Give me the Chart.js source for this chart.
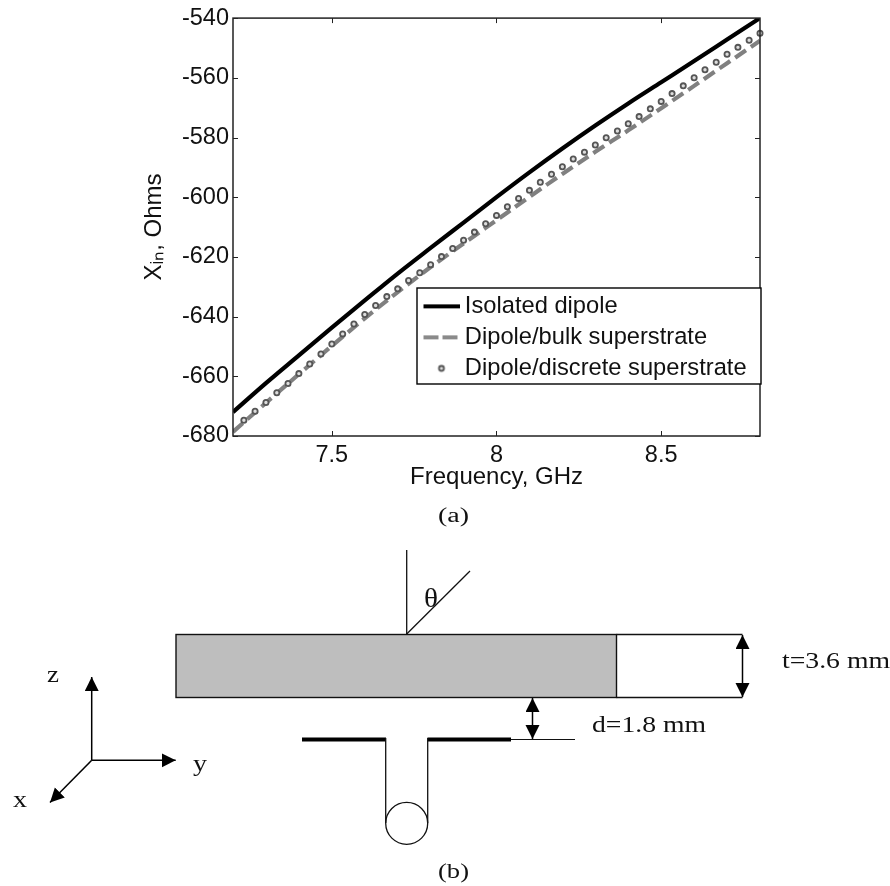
<!DOCTYPE html>
<html>
<head>
<meta charset="utf-8">
<script src="https://cdn.jsdelivr.net/npm/chart.js@4"></script>
<style>
html,body{margin:0;padding:0;background:#fff;}
#wrap{position:relative;width:890px;height:886px;overflow:hidden;}
canvas{position:absolute;left:0;top:0;}
svg{position:absolute;left:0;top:0;}
svg text{font-family:"Liberation Serif",serif;fill:#111;}
</style>
</head>
<body>
<div id="wrap">
<canvas id="c" width="890" height="530"></canvas>
<svg width="890" height="886" viewBox="0 0 890 886">
  <defs>
    <marker id="ah" markerUnits="userSpaceOnUse" markerWidth="15" markerHeight="15" refX="14" refY="7" orient="auto-start-reverse">
      <path d="M0,0 L14,7 L0,14 Z" fill="#000"/>
    </marker>
  </defs>
  <text x="438" y="522" font-size="20" textLength="31" lengthAdjust="spacingAndGlyphs">(a)</text>
  <line x1="406.7" y1="550" x2="406.7" y2="634" stroke="#111" stroke-width="1.3"/>
  <line x1="406.7" y1="634" x2="470" y2="571" stroke="#111" stroke-width="1.3"/>
  <text x="424" y="607" font-size="27" textLength="14" lengthAdjust="spacingAndGlyphs">θ</text>
  <rect x="176" y="634.5" width="440.5" height="63" fill="#bebebe" stroke="#111" stroke-width="1.4"/>
  <polyline points="616.5,634.5 742.5,634.5" fill="none" stroke="#111" stroke-width="1.4"/>
  <polyline points="616.5,697.5 742.5,697.5" fill="none" stroke="#111" stroke-width="1.4"/>
  <line x1="742.5" y1="635" x2="742.5" y2="697" stroke="#000" stroke-width="1.5" marker-start="url(#ah)" marker-end="url(#ah)"/>
  <line x1="532.5" y1="698" x2="532.5" y2="739" stroke="#000" stroke-width="1.5" marker-start="url(#ah)" marker-end="url(#ah)"/>
  <line x1="302" y1="739.5" x2="386" y2="739.5" stroke="#000" stroke-width="4"/>
  <line x1="427.5" y1="739.5" x2="511" y2="739.5" stroke="#000" stroke-width="4"/>
  <line x1="511" y1="739.5" x2="575" y2="739.5" stroke="#111" stroke-width="1.2"/>
  <line x1="385.7" y1="738" x2="385.7" y2="823" stroke="#111" stroke-width="1.3"/>
  <line x1="427.7" y1="738" x2="427.7" y2="823" stroke="#111" stroke-width="1.3"/>
  <circle cx="406.7" cy="823.3" r="21" fill="none" stroke="#111" stroke-width="1.3"/>
  <line x1="91.7" y1="760.3" x2="91.7" y2="677" stroke="#000" stroke-width="1.5" marker-end="url(#ah)"/>
  <line x1="91.7" y1="760.3" x2="175.7" y2="760.3" stroke="#000" stroke-width="1.5" marker-end="url(#ah)"/>
  <line x1="91.7" y1="760.3" x2="50" y2="802.5" stroke="#000" stroke-width="1.5" marker-end="url(#ah)"/>
  <text x="47" y="682" font-size="24" textLength="12" lengthAdjust="spacingAndGlyphs">z</text>
  <text x="193" y="771" font-size="24" textLength="14" lengthAdjust="spacingAndGlyphs">y</text>
  <text x="13" y="807" font-size="24" textLength="14" lengthAdjust="spacingAndGlyphs">x</text>
  <text x="782" y="668" font-size="23" textLength="108" lengthAdjust="spacingAndGlyphs">t=3.6 mm</text>
  <text x="592" y="732" font-size="23" textLength="114" lengthAdjust="spacingAndGlyphs">d=1.8 mm</text>
  <text x="438" y="878" font-size="20" textLength="31" lengthAdjust="spacingAndGlyphs">(b)</text>
</svg>
</div>
<script>
const xTickValues = [7.5, 8, 8.5];
const xTickLabels = ['7.5', '8', '8.5'];
const yTickValues = [-680, -660, -640, -620, -600, -580, -560, -540];
const yTickLabels = ['-680', '-660', '-640', '-620', '-600', '-580', '-560', '-540'];

const lineFreq = [7.2, 7.3, 7.4, 7.5, 7.6, 7.7, 7.8, 7.9, 8.0, 8.1, 8.2, 8.3, 8.4, 8.5, 8.6, 8.7, 8.8];
const isolatedValues = [-672, -662.3, -653, -643.7, -634.6, -625.6, -617, -608.5, -600, -591.7, -583.7, -576, -568.6, -561.5, -554.4, -547.2, -540];
const bulkValues = [-678.6, -668.9, -659.3, -649.8, -640.6, -631.8, -623.4, -615.5, -607.7, -599.9, -592.2, -584.8, -577.6, -570.2, -562.7, -555.1, -547.6];

const discreteFreq = [7.233, 7.267, 7.3, 7.333, 7.367, 7.4, 7.433, 7.467, 7.5, 7.533, 7.567, 7.6, 7.633, 7.667, 7.7, 7.733, 7.767, 7.8, 7.833, 7.867, 7.9, 7.933, 7.967, 8.0, 8.033, 8.067, 8.1, 8.133, 8.167, 8.2, 8.233, 8.267, 8.3, 8.333, 8.367, 8.4, 8.433, 8.467, 8.5, 8.533, 8.567, 8.6, 8.633, 8.667, 8.7, 8.733, 8.767, 8.8];
const discreteValues = [-674.7, -671.7, -668.8, -665.5, -662.4, -659.1, -655.9, -652.5, -649.2, -645.8, -642.5, -639.3, -636.3, -633.3, -630.7, -627.9, -625.3, -622.6, -619.9, -617.2, -614.4, -611.7, -608.9, -606.1, -603.2, -600.4, -597.7, -595, -592.3, -589.8, -587.2, -584.9, -582.5, -580.1, -577.8, -575.4, -573, -570.4, -567.9, -565.3, -562.7, -560, -557.3, -554.8, -552.1, -549.8, -547.4, -545.1];

const seriesNames = ['Isolated dipole', 'Dipole/bulk superstrate', 'Dipole/discrete superstrate'];
const FONT = '"Liberation Sans", Arial, sans-serif';
const pair = (xs, ys) => xs.map((x, i) => ({x, y: ys[i]}));

function swatch(draw) {
  const s = document.createElement('canvas');
  s.width = 42; s.height = 14;
  draw(s.getContext('2d'));
  return s;
}
const swatches = [
  swatch(g => { g.strokeStyle = '#000'; g.lineWidth = 4; g.beginPath(); g.moveTo(6, 7); g.lineTo(42, 7); g.stroke(); }),
  swatch(g => { g.strokeStyle = '#8a8a8a'; g.lineWidth = 4; g.setLineDash([15, 4]); g.beginPath(); g.moveTo(6, 7); g.lineTo(42, 7); g.stroke(); }),
  swatch(g => { g.strokeStyle = '#555'; g.fillStyle = '#ddd'; g.lineWidth = 1.8; g.beginPath(); g.arc(24, 7, 2.5, 0, Math.PI * 2); g.fill(); g.stroke(); })
];

const frame = {
  id: 'frame',
  afterLayout(chart) {
    const l = chart.legend;
    const w = l.width, h = l.height;
    const pad = l.options.labels.padding;
    l.left = 424 - pad;
    l.top = 294.5 - pad;
    l.right = l.left + w; l.bottom = l.top + h;
  },
  afterDatasetsDraw(chart) {
    const {ctx, chartArea: a, scales: {x, y}} = chart;
    ctx.save();
    ctx.strokeStyle = '#222'; ctx.lineWidth = 1.5;
    ctx.strokeRect(a.left, a.top, a.right - a.left, a.bottom - a.top);
    ctx.lineWidth = 1;
    ctx.beginPath();
    xTickValues.forEach(v => {
      const p = Math.round(x.getPixelForValue(v)) + 0.5;
      ctx.moveTo(p, a.top); ctx.lineTo(p, a.top + 5);
      ctx.moveTo(p, a.bottom); ctx.lineTo(p, a.bottom - 5);
    });
    yTickValues.forEach(v => {
      const p = Math.round(y.getPixelForValue(v)) + 0.5;
      ctx.moveTo(a.left, p); ctx.lineTo(a.left + 5, p);
      ctx.moveTo(a.right, p); ctx.lineTo(a.right - 5, p);
    });
    ctx.stroke();
    ctx.fillStyle = '#fff'; ctx.strokeStyle = '#000'; ctx.lineWidth = 1.4;
    ctx.fillRect(417, 288, 344, 96);
    ctx.strokeRect(417, 288, 344, 96);
    ctx.restore();
    chart.legend.draw();
  }
};

new Chart(document.getElementById('c'), {
  type: 'scatter',
  data: {
    datasets: [
      {label: seriesNames[0], data: pair(lineFreq, isolatedValues), showLine: true, borderColor: '#000', borderWidth: 4.2, pointRadius: 0, cubicInterpolationMode: 'monotone', order: 3},
      {label: seriesNames[1], data: pair(lineFreq, bulkValues), showLine: true, borderColor: '#808080', borderWidth: 4.2, borderDash: [13, 6], pointRadius: 0, cubicInterpolationMode: 'monotone', order: 2},
      {label: seriesNames[2], data: pair(discreteFreq, discreteValues), showLine: false, pointRadius: 2.6, pointBorderWidth: 1.8, pointBorderColor: '#555', pointBackgroundColor: '#ddd', clip: false, order: 1}
    ]
  },
  plugins: [frame],
  options: {
    responsive: false,
    animation: false,
    events: [],
    layout: {padding: {left: 140, right: 130, top: 16, bottom: 38}},
    plugins: {
      tooltip: {enabled: false},
      title: {display: false},
      legend: {
        position: 'chartArea',
        align: 'start',
        labels: {
          font: {family: FONT, size: 23.7},
          color: '#111',
          usePointStyle: true,
          pointStyleWidth: 29,
          boxHeight: 14,
          padding: 7.3,
          generateLabels: () => seriesNames.map((text, i) => ({
            text, pointStyle: swatches[i], fillStyle: '#000', strokeStyle: '#000', fontColor: '#111', lineWidth: 0, datasetIndex: i
          }))
        }
      }
    },
    scales: {
      x: {
        type: 'linear', min: 7.2, max: 8.8,
        afterBuildTicks: s => { s.ticks = xTickValues.map(value => ({value})); },
        afterFit: s => { s.height = 56; },
        grid: {display: false, tickLength: 0},
        border: {display: false},
        ticks: {
          font: {family: FONT, size: 23.5}, color: '#111', padding: 5, maxRotation: 0,
          callback: v => xTickLabels[xTickValues.indexOf(v)]
        },
        title: {display: true, text: 'Frequency, GHz', font: {family: FONT, size: 24}, color: '#111', padding: {top: 0, bottom: 0}}
      },
      y: {
        type: 'linear', min: -680, max: -540,
        afterBuildTicks: s => { s.ticks = yTickValues.map(value => ({value})); },
        afterFit: s => { s.width = 93; },
        grid: {display: false, tickLength: 0},
        border: {display: false},
        ticks: {
          font: {family: FONT, size: 23.5}, color: '#111', padding: 4,
          callback: v => yTickLabels[yTickValues.indexOf(v)]
        },
        title: {display: true, text: 'Xᵢₙ, Ohms', font: {family: FONT, size: 24}, color: '#111', padding: {top: 0, bottom: 0}}
      }
    }
  }
});
</script>
</body>
</html>
